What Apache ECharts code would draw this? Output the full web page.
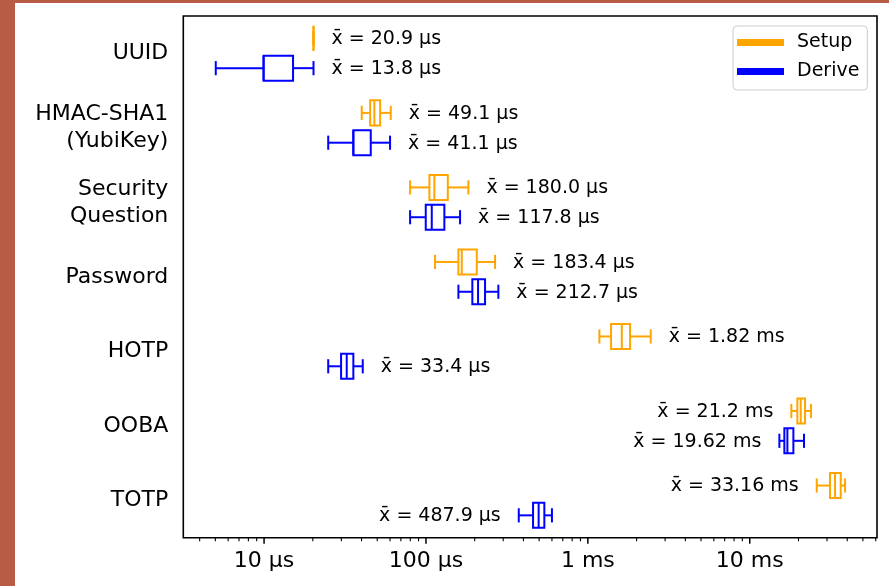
<!DOCTYPE html>
<html><head><meta charset="utf-8">
<script src="https://cdn.jsdelivr.net/npm/echarts@6/dist/echarts.min.js"></script>
<style>
html,body{margin:0;padding:0;width:889px;height:586px;overflow:hidden;background:#b85c46;}
#panel{position:absolute;left:15px;top:3px;right:0;bottom:0;background:#fff;}
#chart{position:absolute;left:0;top:0;width:889px;height:586px;}
</style></head><body>
<div id="panel"></div><div id="chart"></div>
<script>
const categories = ['UUID', 'HMAC-SHA1\n(YubiKey)', 'Security\nQuestion', 'Password', 'HOTP', 'OOBA', 'TOTP'];
// [whisker low, Q1, median, Q3, whisker high] in µs
const setupStats = [
  [20.2, 20.2, 20.2, 20.2, 20.2],
  [40.1, 45.2, 48.0, 52.1, 60.6],
  [79.8, 105, 112.7, 136.4, 182.8],
  [113.8, 158.6, 166.4, 206, 267.2],
  [1178, 1391, 1620, 1823, 2446],
  [18070, 19680, 20650, 21960, 23910],
  [25930, 31330, 33640, 36480, 38790]
];
const deriveStats = [
  [5.03, 9.93, 9.93, 15.1, 20.2],
  [24.9, 35.6, 35.6, 45.6, 60.0],
  [79.8, 99.7, 108.6, 129.9, 162.4],
  [158.6, 193.4, 209.8, 231.7, 280],
  [24.9, 29.9, 32.4, 35.6, 40.7],
  [15240, 16360, 17080, 18600, 21640],
  [374.3, 458.7, 496.6, 538.6, 600]
];
const setupMeans = ['20.9 µs', '49.1 µs', '180.0 µs', '183.4 µs', '1.82 ms', '21.2 ms', '33.16 ms'];
const deriveMeans = ['13.8 µs', '41.1 µs', '117.8 µs', '212.7 µs', '33.4 µs', '19.62 ms', '487.9 µs'];
const setupLabelSide = ['right', 'right', 'right', 'right', 'right', 'left', 'left'];
const deriveLabelSide = ['right', 'right', 'right', 'right', 'right', 'left', 'left'];
const majorTickValues = [10, 100, 1000, 10000];
const majorTickLabels = ['10 µs', '100 µs', '1 ms', '10 ms'];
const xMin = 3.17, xMax = 61100;

const minorTickValues = [];
for (let e = 0; e <= 4; e++) {
  for (let m = 2; m <= 9; m++) {
    const v = m * Math.pow(10, e);
    if (v > xMin && v < xMax) minorTickValues.push(v);
  }
}
const FONT = 'DejaVu Sans';

function makeBoxRender(means, sides, dir) {
  return function (params, api) {
    const i = params.dataIndex;
    const cat = api.value(0);
    const band = params.coordSys.height / categories.length;
    const yc = api.coord([api.value(3), cat])[1] + dir * 0.2 * band;
    const xs = [1, 2, 3, 4, 5].map(k => api.coord([api.value(k), cat])[0]);
    const hb = 0.168 * band, hc = 0.095 * band;
    const color = api.visual('color');
    const ls = { stroke: color, lineWidth: 2, fill: null };
    const children = [
      { type: 'line', shape: { x1: xs[0], y1: yc, x2: xs[1], y2: yc }, style: ls },
      { type: 'line', shape: { x1: xs[3], y1: yc, x2: xs[4], y2: yc }, style: ls },
      { type: 'line', shape: { x1: xs[0], y1: yc - hc, x2: xs[0], y2: yc + hc }, style: ls },
      { type: 'line', shape: { x1: xs[4], y1: yc - hc, x2: xs[4], y2: yc + hc }, style: ls },
      { type: 'rect', shape: { x: xs[1], y: yc - hb, width: xs[3] - xs[1], height: 2 * hb }, style: { stroke: color, lineWidth: 2, fill: 'none' } },
      { type: 'line', shape: { x1: xs[2], y1: yc - hb, x2: xs[2], y2: yc + hb }, style: ls }
    ];
    const side = sides[i];
    children.push({
      type: 'text',
      style: {
        text: 'x\u0304 = ' + means[i],
        x: side === 'right' ? xs[4] + 18 : xs[0] - 18,
        y: yc + 1,
        align: side === 'right' ? 'left' : 'right',
        verticalAlign: 'middle',
        fill: '#000',
        fontSize: 19,
        fontFamily: FONT
      }
    });
    return { type: 'group', children: children };
  };
}

function buildData(stats) {
  return stats.map((s, i) => [i, s[0], s[1], s[2], s[3], s[4]]);
}

const tickData = majorTickValues.map(v => [v, 0, 1]).concat(minorTickValues.map(v => [v, 0, 0]));

const chart = echarts.init(document.getElementById('chart'), null, { renderer: 'canvas' });
chart.setOption({
  animation: false,
  textStyle: { fontFamily: FONT },
  grid: { left: 183.3, right: 12, top: 16, bottom: 48.3, show: true, borderColor: '#000', borderWidth: 1.6, backgroundColor: 'transparent' },
  legend: {
    data: ['Setup', 'Derive'], orient: 'vertical', left: 733, top: 26,
    icon: 'rect', itemWidth: 47, itemHeight: 7, itemGap: 10,
    padding: [7, 8, 9, 4], borderColor: '#cccccc', borderWidth: 1, borderRadius: 4,
    backgroundColor: '#fff', selectedMode: false,
    textStyle: { fontSize: 19, fontFamily: FONT, color: '#000', padding: [0, 0, 0, 8] }
  },
  xAxis: {
    type: 'log', logBase: 10, min: xMin, max: xMax,
    axisLine: { show: false }, axisTick: { show: false }, splitLine: { show: false },
    axisLabel: {
      fontSize: 22, color: '#000', fontFamily: FONT, margin: 13,
      formatter: function (v) {
        const e = Math.log10(v);
        if (Math.abs(e - Math.round(e)) > 1e-6) return '';
        const idx = majorTickValues.indexOf(Math.pow(10, Math.round(e)));
        return idx >= 0 ? majorTickLabels[idx] : '';
      }
    }
  },
  yAxis: {
    type: 'category', data: categories, inverse: true,
    axisLine: { show: false }, axisTick: { show: false }, splitLine: { show: false },
    axisLabel: { fontSize: 22, color: '#000', fontFamily: FONT, margin: 15, lineHeight: 27 }
  },
  series: [
    {
      name: 'Setup', type: 'custom', itemStyle: { color: '#FFA500' },
      encode: { x: [1, 2, 3, 4, 5], y: 0 },
      data: buildData(setupStats),
      renderItem: makeBoxRender(setupMeans, setupLabelSide, -1)
    },
    {
      name: 'Derive', type: 'custom', itemStyle: { color: '#0000FF' },
      encode: { x: [1, 2, 3, 4, 5], y: 0 },
      data: buildData(deriveStats),
      renderItem: makeBoxRender(deriveMeans, deriveLabelSide, 1)
    },
    {
      name: 'ticks', type: 'custom', silent: true, clip: false,
      encode: { x: 0, y: 1 },
      data: tickData,
      renderItem: function (params, api) {
        const x = api.coord([api.value(0), 0])[0];
        const yb = params.coordSys.y + params.coordSys.height;
        const major = api.value(2) === 1;
        return { type: 'line', shape: { x1: x, y1: yb, x2: x, y2: yb + (major ? 6 : 3.5) }, style: { stroke: '#000', lineWidth: major ? 1.5 : 1.1 } };
      }
    }
  ]
});
</script>
</body></html>
